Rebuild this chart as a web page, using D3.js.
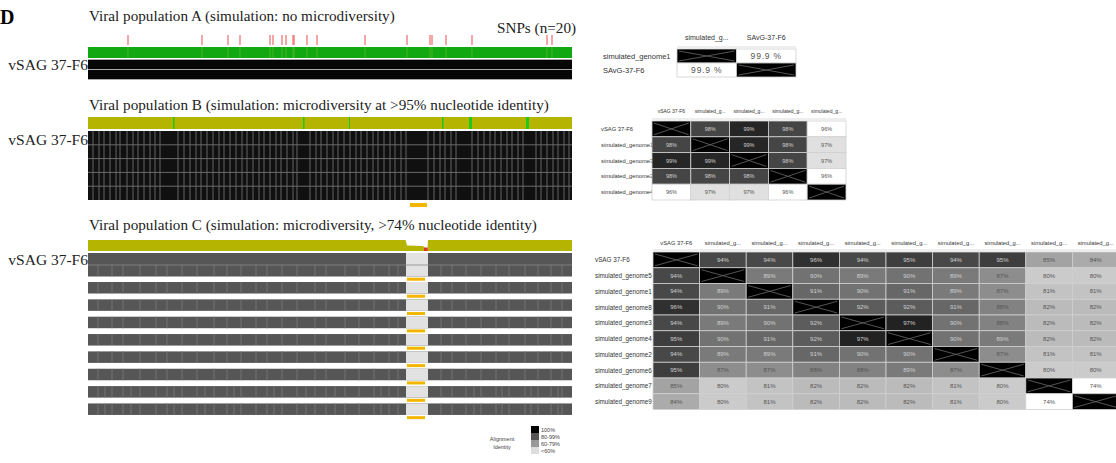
<!DOCTYPE html>
<html>
<head>
<meta charset="utf-8">
<script src="https://cdn.jsdelivr.net/npm/d3@7"></script>
<style>
body { margin: 0; background: #fff; }
svg { display: block; }
.title { font-family: "Liberation Serif", "Times New Roman", serif; font-size: 15.2px; fill: #222; }
.seq-label { font-family: "Liberation Serif", "Times New Roman", serif; font-size: 15.5px; fill: #222; }
.mx text { font-family: "Liberation Sans", Arial, sans-serif; }
</style>
</head>
<body>
<div id="chart"></div>
<script>
// genome coordinates (bp) along the alignment
const genomeLength = 48400;

// population A
const snpPositionsA = [4000, 11400, 14000, 15200, 18200, 18500, 19400, 19800, 20500, 20600,
    21900, 22900, 27700, 31900, 34200, 34400, 35800, 38400, 45900, 46400];

// population B
const greenRegionsB = [[8500, 8650], [21500, 21650], [26100, 26200], [35400, 35550], [38100, 38400], [43800, 44100]];
const mismatchColsB = [500, 1100, 1600, 2200, 2800, 3200, 3900, 4500, 5000, 5600, 6200, 6700, 7200,
    9000, 9600, 10200, 10800, 11300, 11900, 12500, 13100, 13600, 14200, 14800, 15400, 15900, 16500,
    17100, 17600, 18200, 18800, 19300, 19900, 20500, 20900, 22200, 22800, 23300, 23900, 24500, 25000,
    25600, 26200, 26800, 27300, 27900, 28500, 29000, 29600, 30200, 30700, 31300, 31800, 34000, 34600,
    35200, 35700, 36300, 36800, 38400, 39000, 39600, 40200, 40700, 41300, 41900, 42400, 43000, 43500,
    44800, 45300, 45900, 46500, 47000, 47600, 48100];
const flaggedRegionB = [32200, 33900];

// population C
const identityProfileC = [[0, 1], [31750, 1], [31900, 0.5], [33500, 0.45], [33700, 0.25], [33950, 0.25], [34000, 1], [48400, 1]];
const lowRegionC = [33600, 33950];
const gapRegionC = [31800, 34000];
const flaggedRegionC = [31900, 33700];
const mismatchColsC = [1000, 2400, 3500, 5200, 6800, 7900, 9400, 10900, 12600, 13900, 15300, 16800,
    17900, 19400, 20900, 22700, 23800, 25700, 27100, 28600, 30100, 31000, 35300, 36400, 37800, 39300,
    40800, 42100, 43700, 45000, 46300, 47400];
const extraMismatchColsC = [1700, 4300, 8600, 11700, 14600, 18600, 21800, 24700, 29300, 38600, 41400, 44300, 47000];

// identity matrices
const matrixARows = ["simulated_genome1", "SAvG-37-F6"];
const matrixACols = ["simulated_g...", "SAvG-37-F6"];
const matrixAValues = [
    [null, 99.9],
    [99.9, null]
];

const matrixBRows = ["vSAG 37-F6", "simulated_genome1", "simulated_genome3", "simulated_genome2", "simulated_genome4"];
const matrixBCols = ["vSAG 37-F6", "simulated_g...", "simulated_g...", "simulated_g...", "simulated_g..."];
const matrixBValues = [
    [null, 98, 99, 98, 96],
    [98, null, 99, 98, 97],
    [99, 99, null, 98, 97],
    [98, 98, 98, null, 96],
    [96, 97, 97, 96, null]
];

const matrixCRows = ["vSAG 37-F6", "simulated_genome5", "simulated_genome1", "simulated_genome8", "simulated_genome3",
    "simulated_genome4", "simulated_genome2", "simulated_genome6", "simulated_genome7", "simulated_genome9"];
const matrixCCols = ["vSAG 37-F6", "simulated_g...", "simulated_g...", "simulated_g...", "simulated_g...",
    "simulated_g...", "simulated_g...", "simulated_g...", "simulated_g...", "simulated_g..."];
const matrixCValues = [
    [null, 94, 94, 96, 94, 95, 94, 95, 85, 84],
    [94, null, 89, 90, 89, 90, 89, 87, 80, 80],
    [94, 89, null, 91, 90, 91, 89, 87, 81, 81],
    [96, 90, 91, null, 92, 92, 91, 88, 82, 82],
    [94, 89, 90, 92, null, 97, 90, 88, 82, 82],
    [95, 90, 91, 92, 97, null, 90, 89, 82, 82],
    [94, 89, 89, 91, 90, 90, null, 87, 81, 81],
    [95, 87, 87, 88, 88, 89, 87, null, 80, 80],
    [85, 80, 81, 82, 82, 82, 81, 80, null, 74],
    [84, 80, 81, 82, 82, 82, 81, 80, 74, null]
];

const legendLabels = ["100%", "80-99%", "60-79%", "<60%"];
const legendColors = ["#000000", "#555555", "#999999", "#dddddd"];

const width = 1116;
const height = 463;

const svg = d3.select("#chart")
    .append("svg")
    .attr("width", width)
    .attr("height", height);

svg.append("rect").attr("width", width).attr("height", height).attr("fill", "#fff");

const x = d3.scaleLinear().domain([0, genomeLength]).range([88, 572]);

// panel letter
svg.append("text")
    .attr("x", 0)
    .attr("y", 24)
    .attr("font-family", "Liberation Serif, serif")
    .attr("font-weight", "bold")
    .attr("font-size", 20)
    .text("D");

function seqLabel(y) {
    svg.append("text")
        .attr("class", "seq-label")
        .attr("x", 88)
        .attr("y", y)
        .attr("text-anchor", "end")
        .text("vSAG 37-F6");
}

function title(y, text) {
    svg.append("text").attr("class", "title").attr("x", 89).attr("y", y).text(text);
}

// ---- panel A ----
title(21, "Viral population A (simulation: no microdiversity)");
svg.append("text")
    .attr("class", "title")
    .attr("x", 497)
    .attr("y", 33)
    .attr("font-size", 13)
    .text("SNPs (n=" + snpPositionsA.length + ")");

svg.append("g").selectAll("line")
    .data(snpPositionsA)
    .join("line")
    .attr("x1", d => x(d)).attr("x2", d => x(d))
    .attr("y1", 35).attr("y2", 45)
    .attr("stroke", "#ee6a6a")
    .attr("stroke-width", 1.2);

svg.append("rect")
    .attr("x", x(0)).attr("y", 47)
    .attr("width", x(genomeLength) - x(0)).attr("height", 11)
    .attr("fill", "#12a812");

svg.append("g").selectAll("line")
    .data(snpPositionsA)
    .join("line")
    .attr("x1", d => x(d)).attr("x2", d => x(d))
    .attr("y1", 47).attr("y2", 58)
    .attr("stroke", "#6cc030")
    .attr("stroke-opacity", 0.6);

svg.append("rect")
    .attr("x", x(0)).attr("y", 59)
    .attr("width", x(genomeLength) - x(0)).attr("height", 21)
    .attr("fill", "#aaa");

svg.append("g").selectAll("rect")
    .data(matrixARows)
    .join("rect")
    .attr("x", x(0))
    .attr("y", (d, i) => 60 + i * 10)
    .attr("width", x(genomeLength) - x(0))
    .attr("height", 9)
    .attr("fill", "#060606");

seqLabel(70);

// ---- panel B ----
title(110, "Viral population B (simulation: microdiversity at >95% nucleotide identity)");

svg.append("rect")
    .attr("x", x(0)).attr("y", 117)
    .attr("width", x(genomeLength) - x(0)).attr("height", 12)
    .attr("fill", "#b5b400");

svg.append("g").selectAll("rect")
    .data(greenRegionsB)
    .join("rect")
    .attr("x", d => x(d[0]))
    .attr("y", 117)
    .attr("width", d => Math.max(1, x(d[1]) - x(d[0])))
    .attr("height", 12)
    .attr("fill", "#1ec81e");

const blockB = { top: 131, bottom: 200 };
const rowHB = (blockB.bottom - blockB.top) / matrixBRows.length;

svg.append("rect")
    .attr("x", x(0)).attr("y", blockB.top)
    .attr("width", x(genomeLength) - x(0)).attr("height", blockB.bottom - blockB.top)
    .attr("fill", "#101010");

svg.append("g").selectAll("line")
    .data(mismatchColsB)
    .join("line")
    .attr("x1", d => x(d)).attr("x2", d => x(d))
    .attr("y1", blockB.top).attr("y2", blockB.bottom)
    .attr("stroke", "#5e5e5e")
    .attr("stroke-width", 1.1);

svg.append("g").selectAll("line")
    .data(d3.range(1, matrixBRows.length))
    .join("line")
    .attr("x1", x(0)).attr("x2", x(genomeLength))
    .attr("y1", d => blockB.top + d * rowHB).attr("y2", d => blockB.top + d * rowHB)
    .attr("stroke", "#6a6a6a")
    .attr("stroke-width", 1);

svg.append("rect")
    .attr("x", x(flaggedRegionB[0])).attr("y", 203)
    .attr("width", x(flaggedRegionB[1]) - x(flaggedRegionB[0])).attr("height", 4)
    .attr("fill", "#f2b600");

seqLabel(145);

// ---- panel C ----
title(230, "Viral population C (simulation: microdiversity, >74% nucleotide identity)");

const identY = d3.scaleLinear().domain([0, 1]).range([251, 240]);
const area = d3.area()
    .x(d => x(d[0]))
    .y0(251)
    .y1(d => identY(d[1]));

svg.append("path")
    .datum(identityProfileC)
    .attr("d", area)
    .attr("fill", "#b5b400");

svg.append("rect")
    .attr("x", x(lowRegionC[0])).attr("y", 247.5)
    .attr("width", x(lowRegionC[1]) - x(lowRegionC[0])).attr("height", 3.5)
    .attr("fill", "#e03030");

function rowTopC(i) {
    if (i === 0) return 253;
    if (i === 1) return 265;
    return 282 + (i - 2) * 17.35;
}

function rowHeightC(i) {
    return i === 0 ? 12 : 11.5;
}

const rowsC = svg.append("g");

matrixCRows.forEach(function(name, i) {
    const top = rowTopC(i);
    const h = rowHeightC(i);
    const row = rowsC.append("g");

    row.append("rect")
        .attr("x", x(0)).attr("y", top)
        .attr("width", x(genomeLength) - x(0)).attr("height", h)
        .attr("fill", "#565656");

    if (i > 0) {
        const minIdent = d3.min(matrixCValues[i].filter(v => v !== null));
        const cols = minIdent < 78 ? mismatchColsC.concat(extraMismatchColsC) : mismatchColsC;

        row.selectAll("line.mm")
            .data(cols)
            .join("line")
            .attr("class", "mm")
            .attr("x1", d => x(d)).attr("x2", d => x(d))
            .attr("y1", top).attr("y2", top + h)
            .attr("stroke", "#777")
            .attr("stroke-width", 0.9);
    }

    row.append("rect")
        .attr("x", x(gapRegionC[0])).attr("y", top)
        .attr("width", x(gapRegionC[1]) - x(gapRegionC[0])).attr("height", h)
        .attr("fill", "#e2e2e2");

    if (i > 0) {
        row.append("rect")
            .attr("x", x(flaggedRegionC[0])).attr("y", top + h + 1.2)
            .attr("width", x(flaggedRegionC[1]) - x(flaggedRegionC[0])).attr("height", 3)
            .attr("fill", "#f2b600");
    }
});

rowsC.append("line")
    .attr("x1", x(0)).attr("x2", x(genomeLength))
    .attr("y1", 265).attr("y2", 265)
    .attr("stroke", "#888")
    .attr("stroke-width", 0.8);

seqLabel(265);

// ---- legend ----
const legend = svg.append("g").attr("class", "mx");

legend.append("text")
    .attr("x", 502).attr("y", 441)
    .attr("text-anchor", "middle")
    .attr("font-size", 5.5)
    .attr("fill", "#444")
    .text("Alignment");
legend.append("text")
    .attr("x", 502).attr("y", 449)
    .attr("text-anchor", "middle")
    .attr("font-size", 5.5)
    .attr("fill", "#444")
    .text("Identity");

legend.selectAll("rect.sw")
    .data(legendLabels)
    .join("rect")
    .attr("class", "sw")
    .attr("x", 531)
    .attr("y", (d, i) => 426 + i * 7)
    .attr("width", 8)
    .attr("height", 7)
    .attr("fill", (d, i) => legendColors[i]);

legend.selectAll("text.lb")
    .data(legendLabels)
    .join("text")
    .attr("class", "lb")
    .attr("x", 541)
    .attr("y", (d, i) => 431.5 + i * 7)
    .attr("font-size", 5.5)
    .attr("fill", "#444")
    .text(d => d);

// ---- identity matrices ----
function drawMatrix(cfg) {
    const g = svg.append("g").attr("class", "mx");
    const n = cfg.cols.length;

    g.selectAll("text.hd")
        .data(cfg.cols)
        .join("text")
        .attr("class", "hd")
        .attr("x", (d, j) => cfg.x0 + (j + 0.5) * cfg.cw)
        .attr("y", cfg.headerY)
        .attr("text-anchor", "middle")
        .attr("font-size", cfg.headerSize)
        .attr("fill", "#333")
        .text(d => d);

    g.append("line")
        .attr("x1", cfg.x0).attr("x2", cfg.x0 + n * cfg.cw)
        .attr("y1", cfg.y0 - 2).attr("y2", cfg.y0 - 2)
        .attr("stroke", "#ddd");

    g.selectAll("text.rl")
        .data(cfg.rows)
        .join("text")
        .attr("class", "rl")
        .attr("x", cfg.labelX)
        .attr("y", (d, i) => cfg.y0 + (i + 0.5) * cfg.rh)
        .attr("dominant-baseline", "central")
        .attr("font-size", cfg.labelSize)
        .attr("fill", "#333")
        .text(d => d);

    cfg.values.forEach(function(row, i) {
        row.forEach(function(v, j) {
            const cx = cfg.x0 + j * cfg.cw;
            const cy = cfg.y0 + i * cfg.rh;
            const fill = v === null ? "#000" : cfg.color(v);

            g.append("rect")
                .attr("x", cx).attr("y", cy)
                .attr("width", cfg.cw).attr("height", cfg.rh)
                .attr("fill", fill)
                .attr("stroke", "#cfcfcf")
                .attr("stroke-width", 0.8);

            if (v === null) {
                g.append("path")
                    .attr("d", "M" + (cx + 2) + "," + (cy + 2) + "L" + (cx + cfg.cw - 2) + "," + (cy + cfg.rh - 2) +
                        "M" + (cx + 2) + "," + (cy + cfg.rh - 2) + "L" + (cx + cfg.cw - 2) + "," + (cy + 2))
                    .attr("stroke", "#6a6a6a")
                    .attr("stroke-width", 0.8);
            } else {
                g.append("text")
                    .attr("x", cx + cfg.cw / 2)
                    .attr("y", cy + cfg.rh / 2)
                    .attr("text-anchor", "middle")
                    .attr("dominant-baseline", "central")
                    .attr("font-size", cfg.valueSize)
                    .attr("letter-spacing", cfg.spacing || 0)
                    .attr("fill", d3.hsl(fill).l < 0.5 ? "#d0d0d0" : "#555")
                    .text(cfg.format(v));
            }
        });
    });
}

drawMatrix({
    rows: matrixARows, cols: matrixACols, values: matrixAValues,
    color: d3.scaleLinear().domain([99, 100]).range(["#ffffff", "#ffffff"]),
    x0: 677, cw: 59.5, y0: 49, rh: 14, headerY: 40, labelX: 603,
    headerSize: 7, labelSize: 7.5, valueSize: 8.5, spacing: 0.8,
    format: v => v.toFixed(1) + " %"
});

drawMatrix({
    rows: matrixBRows, cols: matrixBCols, values: matrixBValues,
    color: d3.scaleLinear().domain([96, 97, 98, 99]).range(["#ffffff", "#e0e0e0", "#454545", "#262626"]),
    x0: 652, cw: 38.8, y0: 121, rh: 15.8, headerY: 113, labelX: 601,
    headerSize: 5, labelSize: 5.8, valueSize: 5.5,
    format: v => v + "%"
});

drawMatrix({
    rows: matrixCRows, cols: matrixCCols, values: matrixCValues,
    color: d3.scaleLinear().domain([74, 80, 85, 88, 90, 92, 95, 97])
        .range(["#ffffff", "#cbcbcb", "#a3a3a3", "#828282", "#727272", "#5c5c5c", "#3e3e3e", "#222222"]),
    x0: 653, cw: 46.6, y0: 252, rh: 15.75, headerY: 245, labelX: 595,
    headerSize: 5.8, labelSize: 6.3, valueSize: 6,
    format: v => v + "%"
});
</script>
</body>
</html>
